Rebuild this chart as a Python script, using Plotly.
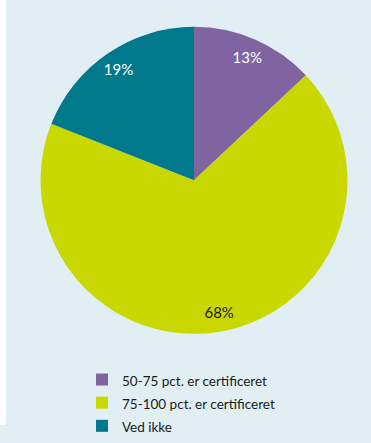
import plotly.graph_objects as go

labels = ["50-75 pct. er certificeret", "75-100 pct. er certificeret", "Ved ikke"]
values = [13, 68, 19]
colors = ["#8064A2", "#C8D800", "#00798C"]
text_colors = ["white", "#1a1a1a", "white"]

W, H = 371, 443
BG = "#E1EFF4"
dom = dict(x=[34 / W, 354 / W], y=[1 - 348 / H, 1 - 28 / H])

# legend labels rendered a little smaller than the legend row height
legend_labels = [f"<span style='font-size:13.5px'>{t}</span>" for t in labels]

fig = go.Figure()
# solid pie
fig.add_trace(go.Pie(
    labels=legend_labels,
    values=values,
    sort=False,
    direction="clockwise",
    rotation=0,
    marker=dict(colors=colors, line=dict(width=0)),
    textinfo="none",
    hovertemplate="%{value}%<extra></extra>",
    domain=dom,
))
# transparent ring carrying the percentage labels near the rim
fig.add_trace(go.Pie(
    labels=legend_labels,
    values=values,
    sort=False,
    direction="clockwise",
    rotation=0,
    hole=0.75,
    showlegend=False,
    marker=dict(colors=["rgba(0,0,0,0)"] * 3, line=dict(width=0)),
    texttemplate="%{value}%",
    textposition="inside",
    insidetextorientation="horizontal",
    textfont=dict(family="Lato", size=15, color=text_colors),
    hoverinfo="skip",
    domain=dom,
))

fig.update_layout(
    width=W,
    height=H,
    margin=dict(l=0, r=0, t=0, b=0),
    paper_bgcolor=BG,
    plot_bgcolor=BG,
    showlegend=True,
    legend=dict(
        x=0.221, y=0.146, xanchor="left", yanchor="top",
        font=dict(family="Lato", size=15.5, color="#1a1a1a"),
        bgcolor="rgba(0,0,0,0)",
        traceorder="normal",
        itemwidth=30,
    ),
    shapes=[dict(type="rect", xref="paper", yref="paper", x0=0, x1=6 / W, y0=0, y1=1,
                 fillcolor="white", line=dict(width=0), layer="below")],
)

fig.write_html(
    "out.html",
    config={"displayModeBar": False},
    post_script=(
        "document.body.style.margin='0';"
        "document.body.style.overflow='hidden';"
        f"document.body.style.background='{BG}';"
    ),
)
